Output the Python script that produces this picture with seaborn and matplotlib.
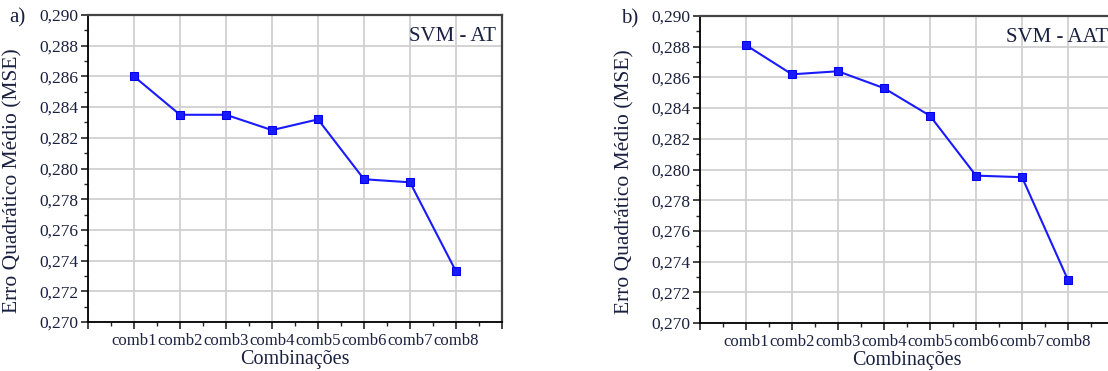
import numpy as np
import pandas as pd
import matplotlib as mpl
import matplotlib.pyplot as plt
import seaborn as sns
from matplotlib.ticker import MultipleLocator, FixedLocator, FuncFormatter

sns.set_style("white")
plt.rcParams["font.family"] = ["Liberation Serif", "DejaVu Serif"]

combos = ["comb1", "comb2", "comb3", "comb4", "comb5", "comb6", "comb7", "comb8"]
mse_at = [0.2860, 0.2835, 0.2835, 0.2825, 0.2832, 0.2793, 0.2791, 0.2733]
mse_aat = [0.2881, 0.2862, 0.2864, 0.2853, 0.2835, 0.2796, 0.2795, 0.2728]
panel_tags = ["a)", "b)"]
panel_titles = ["SVM - AT", "SVM - AAT"]

W, H = 1108, 371
fig = plt.figure(figsize=(W / 100, H / 100), dpi=100)

# axes boxes in pixels: left, top, right, bottom
boxes = [(88, 15, 502, 322), (700, 16, 1114, 323)]

for i, (vals, box) in enumerate(zip([mse_at, mse_aat], boxes)):
    l, t, r, b = box
    ax = fig.add_axes([l / W, (H - b) / H, (r - l) / W, (b - t) / H])
    df = pd.DataFrame({"pos": np.arange(1, len(combos) + 1), "mse": vals})
    sns.lineplot(data=df, x="pos", y="mse", ax=ax, color="#1a1aff",
                 marker="s", markersize=6, markeredgecolor="#0000ee",
                 linewidth=1.5, zorder=3)
    ax.set_xlim(0, len(combos) + 1)
    ax.set_ylim(0.270, 0.290)
    ax.xaxis.set_major_locator(FixedLocator(range(0, len(combos) + 2)))
    ax.xaxis.set_minor_locator(MultipleLocator(0.5))
    labels = [""] + combos + [""]
    ax.set_xticklabels(labels)
    ax.yaxis.set_major_locator(MultipleLocator(0.002))
    ax.yaxis.set_minor_locator(MultipleLocator(0.001))
    ax.yaxis.set_major_formatter(FuncFormatter(lambda v, p: f"{v:.3f}".replace(".", ",")))
    ax.grid(True, which="major", color="#d0d0d0", linewidth=1.3, zorder=0)
    ax.tick_params(axis="both", which="major", direction="out", length=5,
                   width=1.2, pad=2, bottom=True, left=True,
                   labelcolor="#1a2040")
    ax.tick_params(axis="x", which="major", labelsize=12, pad=3)
    ax.tick_params(axis="y", which="major", labelsize=12.5)
    ax.tick_params(axis="both", which="minor", direction="out", length=3,
                   width=1.0, bottom=True, left=True)
    for s in ["left", "bottom"]:
        ax.spines[s].set_color("black")
        ax.spines[s].set_linewidth(1.3)
    for s in ["top", "right"]:
        ax.spines[s].set_color("#444444")
        ax.spines[s].set_linewidth(1.6)
    ax.set_xlabel("Combinações", fontsize=14.5, labelpad=0.5, color="#1a2040")
    ax.set_ylabel("Erro Quadrático Médio (MSE)", fontsize=15.5, labelpad=3,
                  color="#1a2040")
    ax.yaxis.set_label_coords(-0.158, 0.46)
    ax.text(0.985, 0.93, panel_titles[i], transform=ax.transAxes, ha="right",
            va="center", fontsize=15, color="#1a2040")
    ax.text(-0.19, 0.99, panel_tags[i], transform=ax.transAxes, ha="left",
            va="center", fontsize=15, color="#1a2040")

fig.savefig("out.png", dpi=100)
